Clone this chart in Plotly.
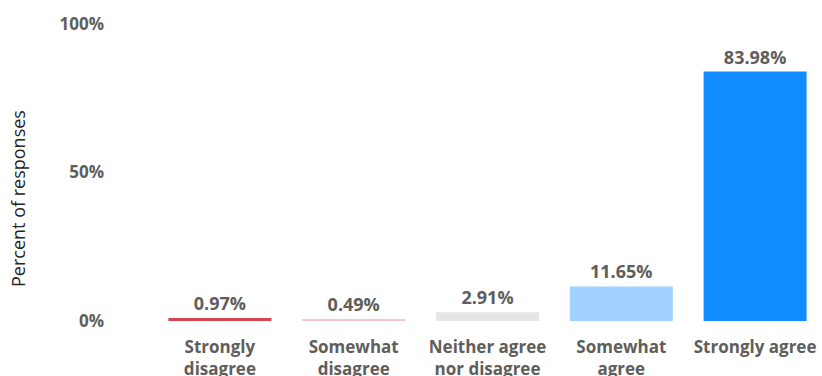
import plotly.graph_objects as go

categories = ["Strongly<br>disagree", "Somewhat<br>disagree", "Neither agree<br>nor disagree",
              "Somewhat<br>agree", "Strongly agree"]
values = [0.97, 0.49, 2.91, 11.65, 83.98]
colors = ["#D64550", "#F4C6CB", "#E6E6E6", "#A0D1FF", "#118DFF"]
y_ticks = [0, 50, 100]
y_tick_labels = ["0%", "50%", "100%"]

text_color = "#605E5C"
font_family = "Open Sans, Segoe UI, sans-serif"

fig = go.Figure(go.Bar(
    x=categories,
    y=values,
    marker=dict(color=colors, line=dict(width=0)),
    text=[f"{v:.2f}%" for v in values],
    textposition="outside",
    textfont=dict(family=font_family, size=18, color=text_color, weight="bold"),
    cliponaxis=False,
    hoverinfo="skip",
))

fig.update_layout(
    width=822, height=376,
    margin=dict(l=153, r=0, t=24, b=55),
    paper_bgcolor="white", plot_bgcolor="white",
    bargap=0.23,
    showlegend=False,
    font=dict(family=font_family, color=text_color),
)

fig.update_xaxes(
    showgrid=False, showline=False, zeroline=False, ticks="",
    tickfont=dict(family=font_family, size=17, color=text_color, weight="bold"),
    ticklabelstandoff=14,
    automargin=False,
)
fig.update_yaxes(
    range=[0, 100], tickvals=y_ticks, ticktext=y_tick_labels,
    showgrid=False, zeroline=False, showline=False, ticks="",
    tickfont=dict(family=font_family, size=17, color=text_color, weight="bold"),
    ticklabelstandoff=48,
    automargin=False,
)

fig.add_annotation(
    text="Percent of responses", xref="paper", yref="paper",
    x=-153 / 669 + 18 / 669, y=(321 - 199) / 297, xanchor="center", yanchor="middle",
    textangle=-90, showarrow=False,
    font=dict(family=font_family, size=18, color="#252423"),
)

fig.write_html("out.html")
